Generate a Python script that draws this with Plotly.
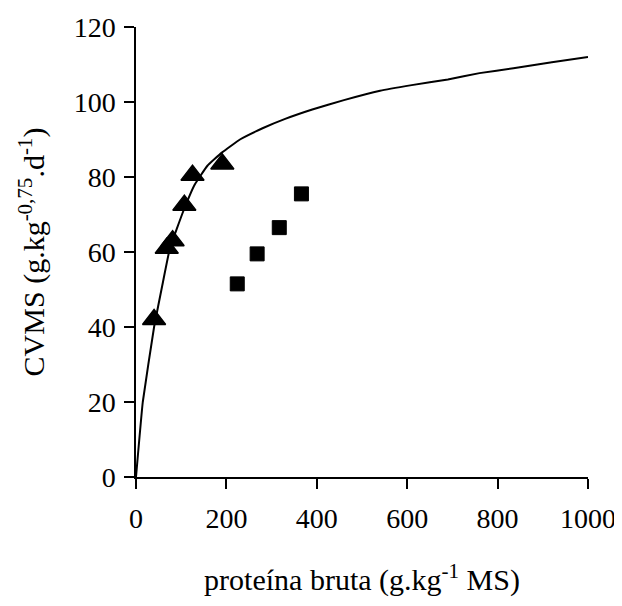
import plotly.graph_objects as go

# Data
tri_x = [40, 68, 81, 107, 125, 191]
tri_y = [42, 61, 63, 72.5, 80.5, 83.5]

sq_x = [224, 268, 317, 366]
sq_y = [51.5, 59.5, 66.5, 75.5]

curve_x = [0, 15, 40, 58, 75, 105, 130, 158, 190, 230, 280, 330, 390, 460, 540, 610, 690, 760, 835, 920, 1000]
curve_y = [0, 20, 40, 51, 61, 71, 78, 83, 86.5, 90, 93, 95.5, 98, 100.5, 103, 104.5, 106, 107.7, 109, 110.6, 112]

x_ticks = [0, 200, 400, 600, 800, 1000]
y_ticks = [0, 20, 40, 60, 80, 100, 120]

FONT = "Liberation Serif, Times New Roman, serif"
FS = 28
TS = 30

fig = go.Figure()
fig.add_trace(go.Scatter(x=curve_x, y=curve_y, mode="lines",
                         line=dict(color="black", width=2, shape="spline", smoothing=0.3),
                         showlegend=False, hoverinfo="skip"))
fig.add_trace(go.Scatter(x=tri_x, y=tri_y, mode="markers",
                         marker=dict(symbol="triangle-up", size=20, color="black",
                                     line=dict(color="black", width=1.5)),
                         showlegend=False))
fig.add_trace(go.Scatter(x=sq_x, y=sq_y, mode="markers",
                         marker=dict(symbol="square", size=14, color="black",
                                     line=dict(color="black", width=1)),
                         showlegend=False))

fig.update_layout(
    width=622, height=606,
    margin=dict(l=128, r=42, t=19, b=137),
    paper_bgcolor="white", plot_bgcolor="white",
    font=dict(family=FONT, size=FS, color="black"),
    xaxis=dict(range=[0, 1000], tickvals=x_ticks, showgrid=False, zeroline=False,
               showline=True, linecolor="black", linewidth=1.5,
               ticks="outside", ticklen=10, tickwidth=1.5, tickcolor="black",
               tickfont=dict(family=FONT, size=FS), automargin=False,
               ticklabelstandoff=6,
               title=dict(text="proteína bruta (g.kg<sup>-1</sup> MS)",
                          font=dict(family=FONT, size=TS), standoff=36)),
    yaxis=dict(range=[0, 120], tickvals=y_ticks, showgrid=False, zeroline=False,
               showline=True, linecolor="black", linewidth=1.5,
               ticks="outside", ticklen=10, tickwidth=1.5, tickcolor="black",
               tickfont=dict(family=FONT, size=FS), automargin=False,
               ticklabelstandoff=3,
               title=dict(text="CVMS (g.kg<sup>-0,75</sup>.d<sup>-1</sup>)",
                          font=dict(family=FONT, size=TS), standoff=20)),
)

fig.write_html("out.html")
